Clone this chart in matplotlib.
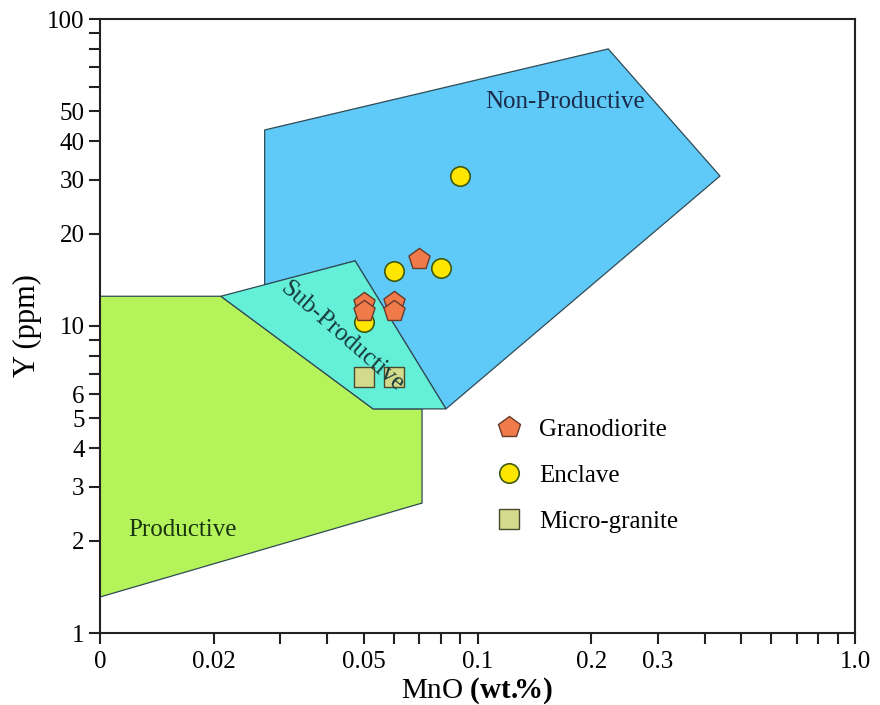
import matplotlib
matplotlib.use("Agg")
import matplotlib.pyplot as plt
from matplotlib.ticker import FixedLocator, FixedFormatter, NullFormatter
from matplotlib.lines import Line2D

plt.rcParams['font.family'] = ['Liberation Serif', 'DejaVu Serif']
plt.rcParams['mathtext.fontset'] = 'custom'
plt.rcParams['mathtext.rm'] = 'Liberation Serif'
plt.rcParams['mathtext.bf'] = 'Liberation Serif:bold'

# ---- data ----
gran_x = [0.050, 0.050, 0.060, 0.060, 0.070]
gran_y = [11.9, 11.2, 12.0, 11.2, 16.5]
encl_x = [0.050, 0.060, 0.080, 0.090]
encl_y = [10.3, 15.1, 15.5, 30.8]
micro_x = [0.050, 0.060]
micro_y = [6.8, 6.8]

prod_x = [0.01, 0.0209, 0.0529, 0.0713, 0.0713, 0.01]
prod_y = [12.5, 12.5, 5.37, 5.37, 2.65, 1.31]
sub_x = [0.0209, 0.0474, 0.0825, 0.0529]
sub_y = [12.5, 16.3, 5.37, 5.37]
non_x = [0.0273, 0.0273, 0.0474, 0.0825, 0.439, 0.222]
non_y = [43.5, 13.6, 16.3, 5.37, 30.8, 79.9]

x_major = [0.01, 0.02, 0.05, 0.1, 0.2, 0.3, 1.0]
x_major_labels = ["0", "0.02", "0.05", "0.1", "0.2", "0.3", "1.0"]
x_minor = [0.03, 0.04, 0.06, 0.07, 0.08, 0.09, 0.4, 0.5, 0.6, 0.7, 0.8, 0.9]
y_major = [1, 2, 3, 4, 5, 6, 10, 20, 30, 40, 50, 100]
y_major_labels = ["1", "2", "3", "4", "5", "6", "10", "20", "30", "40", "50", "100"]
y_minor = [7, 8, 9, 60, 70, 80, 90]

fig = plt.figure(figsize=(8.8, 7.05), dpi=100)
ax = fig.add_axes([100/880, 72/705, 755/880, 614/705])
ax.set_xscale('log')
ax.set_yscale('log')
ax.set_xlim(0.01, 1.0)
ax.set_ylim(1, 100)

edge = '#2f4a55'
ax.fill(prod_x, prod_y, facecolor='#b4f45a', edgecolor=edge, linewidth=0.9, zorder=1)
ax.fill(non_x, non_y, facecolor='#5fcaf8', edgecolor=edge, linewidth=0.9, zorder=1)
ax.fill(sub_x, sub_y, facecolor='#64f0d8', edgecolor=edge, linewidth=0.9, zorder=2)

ax.text(0.1706, 53.7, "Non-Productive", fontsize=18, color='#1a2a48',
        ha='center', va='center', zorder=3)
ax.text(0.01649, 2.165, "Productive", fontsize=18, color='#1a3310',
        ha='center', va='center', zorder=3)
ax.text(0.0438, 9.25, "Sub-Productive", fontsize=18, color='#163a3a',
        ha='center', va='center', rotation=-41, rotation_mode='anchor', zorder=6)

ax.scatter(micro_x, micro_y, marker='s', s=14**2, facecolor='#d3da8c',
           edgecolor='#4a4a30', linewidth=1.0, zorder=5)
ax.scatter(encl_x, encl_y, marker='o', s=14**2, facecolor='#ffe600',
           edgecolor='#3f5a10', linewidth=1.2, zorder=4)
ax.scatter(gran_x, gran_y, marker='p', s=16**2, facecolor='#f07a4a',
           edgecolor='#6a3a2a', linewidth=1.0, zorder=4)

handles = [
    Line2D([], [], linestyle='none', marker='p', markersize=16, markerfacecolor='#f07a4a',
           markeredgecolor='#6a3a2a', markeredgewidth=1.0),
    Line2D([], [], linestyle='none', marker='o', markersize=14, markerfacecolor='#ffe600',
           markeredgecolor='#3f5a10', markeredgewidth=1.2),
    Line2D([], [], linestyle='none', marker='s', markersize=14, markerfacecolor='#d3da8c',
           markeredgecolor='#4a4a30', markeredgewidth=1.0),
]
ax.legend(handles, ["Granodiorite", "Enclave", "Micro-granite"], loc='upper left',
          bbox_to_anchor=(0.525, 0.350), frameon=False, fontsize=18, labelspacing=0.95,
          handlelength=1.0, handletextpad=0.7, borderpad=0, borderaxespad=0)

ax.xaxis.set_major_locator(FixedLocator(x_major))
ax.xaxis.set_major_formatter(FixedFormatter(x_major_labels))
ax.xaxis.set_minor_locator(FixedLocator(x_minor))
ax.xaxis.set_minor_formatter(NullFormatter())
ax.yaxis.set_major_locator(FixedLocator(y_major))
ax.yaxis.set_major_formatter(FixedFormatter(y_major_labels))
ax.yaxis.set_minor_locator(FixedLocator(y_minor))
ax.yaxis.set_minor_formatter(NullFormatter())

ax.tick_params(which='both', direction='out', length=8, width=1.5, color='#222222',
               labelsize=18, top=False, right=False)
ax.tick_params(axis='x', which='major', pad=5)
ax.tick_params(axis='y', which='major', pad=3)
for s in ax.spines.values():
    s.set_linewidth(1.5)
    s.set_color('#222222')

ax.set_xlabel(r"MnO $\mathbf{(wt.\!\!\%)}$", fontsize=21, labelpad=2)
ax.set_ylabel("Y (ppm)", fontsize=22, labelpad=4)

fig.savefig("out.png", dpi=100)
